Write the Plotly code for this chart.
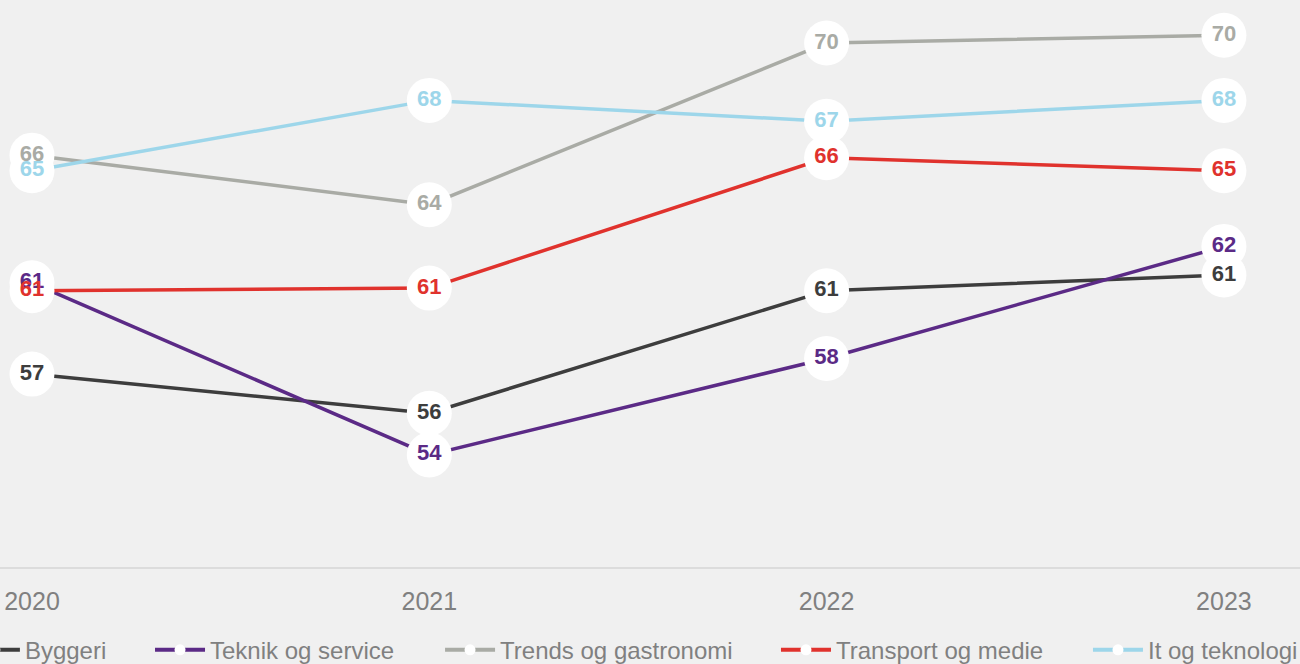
import plotly.graph_objects as go

years = ["2020", "2021", "2022", "2023"]
x_pos = [0, 1, 2, 3]

series_names = ["Byggeri", "Teknik og service", "Trends og gastronomi", "Transport og medie", "It og teknologi"]
byggeri = [57.4, 55.9, 60.6, 61.2]
teknik = [60.9, 54.3, 58.0, 62.3]
trends = [65.8, 63.9, 70.1, 70.4]
transport = [60.6, 60.7, 65.7, 65.2]
it_tek = [65.2, 67.9, 67.1, 67.9]
colors = ["#3d3d3d", "#5b2a86", "#a9aba5", "#e0322d", "#9dd6ea"]

values = [byggeri, teknik, trends, transport, it_tek]
font = "Liberation Sans, Arial, sans-serif"

# one legend box per series so the entries spread across the bottom like the original
legend_x = [-0.027, 0.1154, 0.3385, 0.5969, 0.8369]
legend_ids = ["legend", "legend2", "legend3", "legend4", "legend5"]

fig = go.Figure()

# lines first, then the white circles, then labels on top of everything
for name, vals, col in zip(series_names, values, colors):
    fig.add_trace(go.Scatter(x=x_pos, y=vals, mode="lines", line=dict(color=col, width=3.5),
                             showlegend=False, hoverinfo="skip", cliponaxis=False))
for name, vals, col in zip(series_names, values, colors):
    fig.add_trace(go.Scatter(x=x_pos, y=vals, mode="markers", marker=dict(color="white", size=45),
                             showlegend=False, hoverinfo="skip", cliponaxis=False))
for name, vals, col in zip(series_names, values, colors):
    fig.add_trace(go.Scatter(x=x_pos, y=vals, mode="text", text=[f"{v:.0f}" for v in vals],
                             textposition="middle center",
                             textfont=dict(color=col, size=22, family=font, weight="bold"),
                             showlegend=False, name=name, cliponaxis=False))

# legend entries
for name, col, lid in zip(series_names, colors, legend_ids):
    fig.add_trace(go.Scatter(x=[None], y=[None], mode="lines+markers", name=name,
                             line=dict(color=col, width=4), legend=lid,
                             marker=dict(color="white", size=11)))

fig.update_layout(
    width=1300, height=664,
    paper_bgcolor="#f0f0f0", plot_bgcolor="#f0f0f0",
    margin=dict(l=0, r=0, t=5, b=97, autoexpand=False),
    font=dict(family=font, color="#808080"),
    xaxis=dict(range=[-0.0805, 3.1915], tickvals=x_pos, ticktext=years, showgrid=False,
               zeroline=False, showline=True, linecolor="#dcdcdc", linewidth=2,
               tickfont=dict(size=25, color="#808080"), ticklabelstandoff=11),
    yaxis=dict(range=[50, 71.56], visible=False, showgrid=False, zeroline=False),
)
for lid, lx in zip(legend_ids, legend_x):
    fig.update_layout({lid: dict(orientation="h", x=lx, xanchor="left", y=-0.108, yanchor="top",
                                 font=dict(size=24, color="#808080"), itemwidth=50,
                                 bgcolor="rgba(0,0,0,0)")})

fig.write_html("out.html", config={"displayModeBar": False},
               post_script="document.body.style.margin='0';")
